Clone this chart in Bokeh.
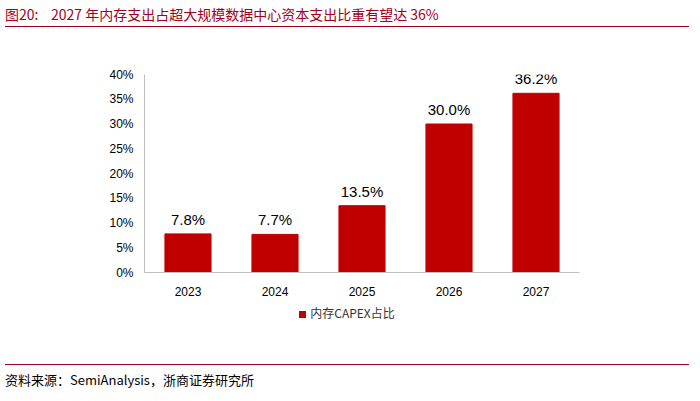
from bokeh.plotting import figure
from bokeh.models import ColumnDataSource, NumeralTickFormatter, Div
from bokeh.layouts import column
from bokeh.embed import file_html
from bokeh.resources import INLINE

years = ["2023", "2024", "2025", "2026", "2027"]
share = [0.078, 0.077, 0.135, 0.300, 0.362]
labels = ["7.8%", "7.7%", "13.5%", "30.0%", "36.2%"]
series_name = "内存CAPEX占比"

src = ColumnDataSource(dict(x=years, y=share, t=labels, ty=[v + 0.012 for v in share]))
p = figure(frame_width=435, frame_height=198, x_range=years, y_range=(0, 0.40), output_backend="svg",
           toolbar_location=None, min_border_left=144, min_border_right=105,
           min_border_top=42, min_border_bottom=8)
p.outline_line_color = None
p.grid.grid_line_color = None
r = p.vbar(x="x", top="y", width=0.53, color="#C00000", source=src)
p.text(x="x", y="ty", text="t", source=src, text_align="center", text_baseline="bottom",
       text_font_size="15px", text_font={"value": "Liberation Sans"}, text_color="black")
p.yaxis.formatter = NumeralTickFormatter(format="0%")
p.yaxis.ticker = [i * 0.05 for i in range(9)]
for ax in (p.xaxis, p.yaxis):
    ax.axis_line_color = "#BFBFBF"
    ax.major_tick_line_color = None
    ax.minor_tick_line_color = None
    ax.major_label_text_font = "Liberation Sans"
    ax.major_label_text_font_size = "12px"
    ax.major_label_text_color = "black"
p.xaxis.major_label_standoff = 8

title = Div(text="图20:&nbsp;&nbsp;&nbsp;&nbsp;2027 年内存支出占超大规模数据中心资本支出比重有望达 36%",
            width=684, height=22,
            styles={"font-family": "Noto Sans CJK SC", "font-size": "14px", "color": "#A50021",
                    "border-bottom": "1px solid #A50021", "line-height": "18px"})
legend = Div(text='<span style="display:inline-block;width:7px;height:7px;background:#C00000;margin-right:4px"></span>' + series_name,
             width=684, height=51,
             styles={"font-family": "Noto Sans CJK SC", "font-size": "12px", "color": "#333",
                     "text-align": "center", "line-height": "20px"})
source = Div(text="资料来源：SemiAnalysis，浙商证券研究所", width=684, height=24,
             styles={"font-family": "Noto Sans CJK SC", "font-size": "13px", "color": "black",
                     "border-top": "1px solid #A50021", "padding-top": "6px"})
lay = column(title, p, legend, source, spacing=0)
open("out.html", "w").write(file_html(lay, INLINE))
